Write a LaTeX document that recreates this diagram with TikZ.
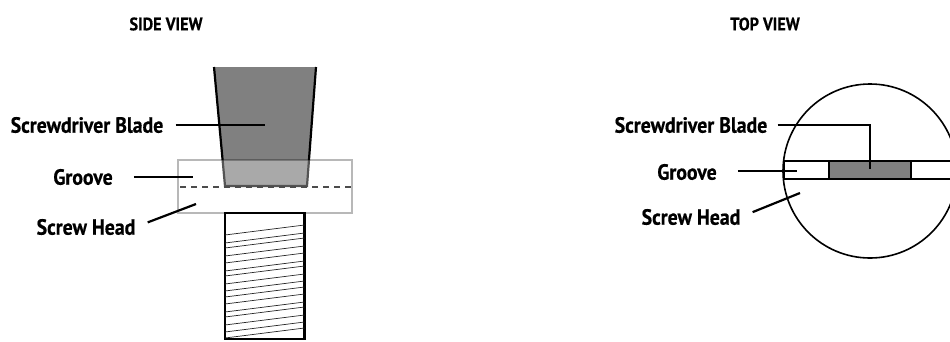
\documentclass[tikz,border=0pt]{standalone}
\usepackage{fontspec}
\setmainfont{PT Sans}[BoldFeatures={FakeStretch=0.9,FakeBold=0.5}]
\usepackage{tikz}
\usetikzlibrary{positioning}

\begin{document}
\begin{tikzpicture}[
    x=1pt, y=-1pt,
    title/.style={font=\fontsize{18}{20}\selectfont\bfseries, inner sep=0pt},
    callout/.style={font=\fontsize{22}{24}\selectfont\bfseries, inner sep=0pt},
    leader/.style={line width=2.2pt, line cap=butt},
    edge/.style={line width=2.2pt, draw=black},
    thread/.style={line width=0.7pt, draw=black!85}
]
\clip (0,0) rectangle (950,341);

% Titles
\node[title] (sidetitle) at (166,24) {SIDE VIEW};
\node[title] (toptitle) at (765,24) {TOP VIEW};

% Side view: blade
\fill[black!50] (214,67) -- (316,67) -- (307,186) -- (225,186) -- cycle;
\draw[edge] (214,67) -- (225,186) -- (307,186) -- (316,67);

% Side view: head, laid over the blade
\fill[white, opacity=0.33] (178,160) rectangle (352,213);
\draw[black, opacity=0.28, line width=1.8pt] (178,160) rectangle (352,213);
\draw[black!70, line width=1.5pt, dash pattern=on 6pt off 5pt] (180,187) -- (353,187);

% Side view: screw
\draw[edge] (225,213) rectangle (304.5,339);
\foreach \ya in {235,243,248,256,263,271,276,284,291,297,304,312,317,325,332,338}
    \draw[thread] (225,\ya) -- (304.5,\ya-10);

% Side view: labels
\node[callout] (sideblade) at (87,125) {Screwdriver Blade};
\node[callout] (sidegroove) at (83,177) {Groove};
\node[callout] (sidehead) at (86,227) {Screw Head};
\coordinate (sidebladeend) at (265,125);
\coordinate (sidegrooveend) at (193,177);
\coordinate (sideheadend) at (196,204);
\draw[leader, shorten <=12pt] (sideblade.east) -- (sidebladeend);
\draw[leader, shorten <=21pt] (sidegroove.east) -- (sidegrooveend);
\draw[leader, shorten <=13pt] (sidehead.east) -- (sideheadend);

% Top view: head and groove
\node[circle, draw, line width=1.6pt, minimum size=174pt, inner sep=0pt] (tophead) at (870,171) {};
\fill[black!50] (829,161) rectangle (911,179);
\draw[edge] (829,161) -- (829,179);
\draw[edge] (911,161) -- (911,179);
\draw[line width=2.4pt] (783.5,161) -- (950,161);
\draw[line width=1.4pt] (784,179) -- (950,179);
\draw[line width=2.4pt] (784,161) -- (784,179);

% Top view: labels
\node[callout] (topblade) at (691,125) {Screwdriver Blade};
\node[callout] (topgroove) at (687,172) {Groove};
\node[callout] (tophd) at (691,217) {Screw Head};
\coordinate (topbladeend) at (870,169);
\coordinate (topgrooveend) at (797,171);
\coordinate (topheadend) at (800,193);
\draw[leader, shorten <=10pt] (topblade.east) -| (topbladeend);
\draw[leader, shorten <=21pt] (topgroove.east |- topgrooveend) -- (topgrooveend);
\draw[leader, shorten <=13pt] (tophd.east) -- (topheadend);

\end{tikzpicture}
\end{document}
